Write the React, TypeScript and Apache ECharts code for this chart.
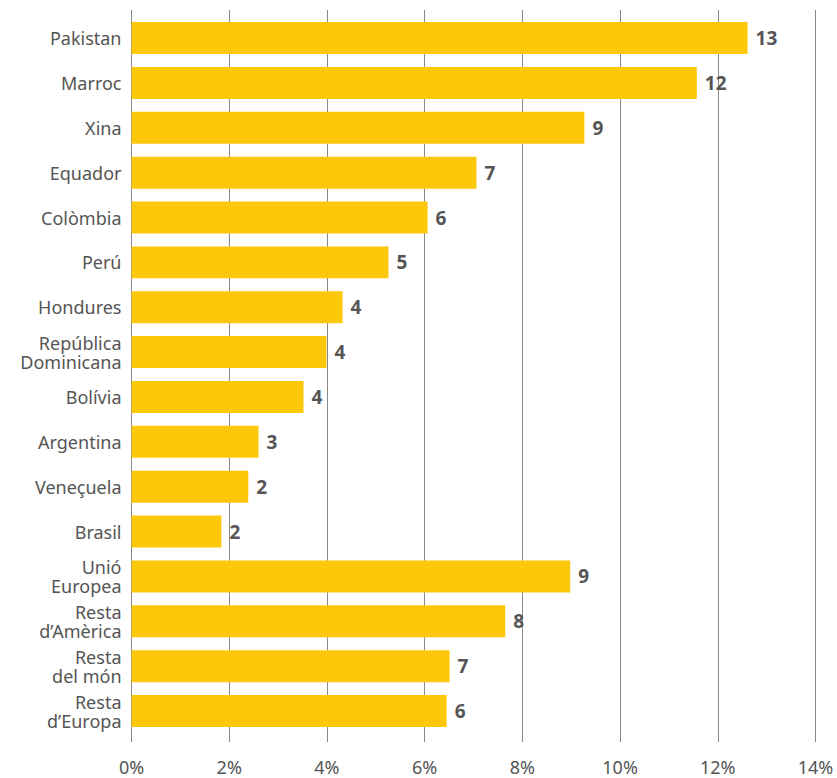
import React, { useEffect, useRef } from "react";
import * as echarts from "echarts";

const categories = [
  "Pakistan",
  "Marroc",
  "Xina",
  "Equador",
  "Colòmbia",
  "Perú",
  "Hondures",
  "República\nDominicana",
  "Bolívia",
  "Argentina",
  "Veneçuela",
  "Brasil",
  "Unió\nEuropea",
  "Resta\nd’Amèrica",
  "Resta\ndel món",
  "Resta\nd’Europa",
];

const values = [12.61, 11.57, 9.27, 7.06, 6.06, 5.26, 4.32, 3.99, 3.52, 2.6, 2.39, 1.84, 8.98, 7.65, 6.51, 6.45];

const xTicks = [0, 2, 4, 6, 8, 10, 12, 14];

const FONT = "'Source Sans Pro', 'Noto Sans', sans-serif";
const GREY = "#555555";

export default function App() {
  const ref = useRef<HTMLDivElement>(null);
  useEffect(() => {
    if (!ref.current) return;
    const chart = echarts.init(ref.current, undefined, { renderer: "svg" });
    const left = 131.5;
    const right = 837 - 815.5;
    chart.setOption({
      animation: false,
      grid: [
        { left, right, top: 10, height: 732 },
        { left, right, top: 15.6, height: 717.9 },
      ],
      xAxis: [
        {
          gridIndex: 0,
          type: "value",
          min: xTicks[0],
          max: xTicks[xTicks.length - 1],
          interval: 2,
          axisLine: { show: false },
          axisTick: { show: false },
          splitLine: { show: true, lineStyle: { color: "#8a8a8a", width: 1 } },
          axisLabel: {
            formatter: (v: number) => `${v}%`,
            color: GREY,
            fontFamily: FONT,
            fontSize: 18,
            margin: 16,
          },
        },
        {
          gridIndex: 1,
          type: "value",
          min: xTicks[0],
          max: xTicks[xTicks.length - 1],
          interval: 2,
          show: false,
          splitLine: { show: false },
        },
      ],
      yAxis: [
        {
          gridIndex: 0,
          type: "category",
          data: [""],
          show: false,
        },
        {
          gridIndex: 1,
          type: "category",
          data: categories,
          inverse: true,
          axisLine: { show: false },
          axisTick: { show: false },
          splitLine: { show: false },
          axisLabel: {
            color: GREY,
            fontFamily: FONT,
            fontSize: 18,
            lineHeight: 19,
            margin: 10,
            align: "right",
          },
        },
      ],
      series: [
        {
          type: "bar",
          xAxisIndex: 1,
          yAxisIndex: 1,
          data: values,
          barCategoryGap: "28.7%",
          itemStyle: { color: "#FEC80A" },
          label: {
            show: true,
            position: "right",
            distance: 8,
            formatter: (p: any) => `${Math.round(p.value)}`,
            color: GREY,
            fontFamily: FONT,
            fontSize: 19,
            fontWeight: "bold",
          },
        },
      ],
    });
    return () => chart.dispose();
  }, []);
  return <div ref={ref} style={{ width: 837, height: 778, position: "absolute", left: 0, top: 0 }} />;
}
